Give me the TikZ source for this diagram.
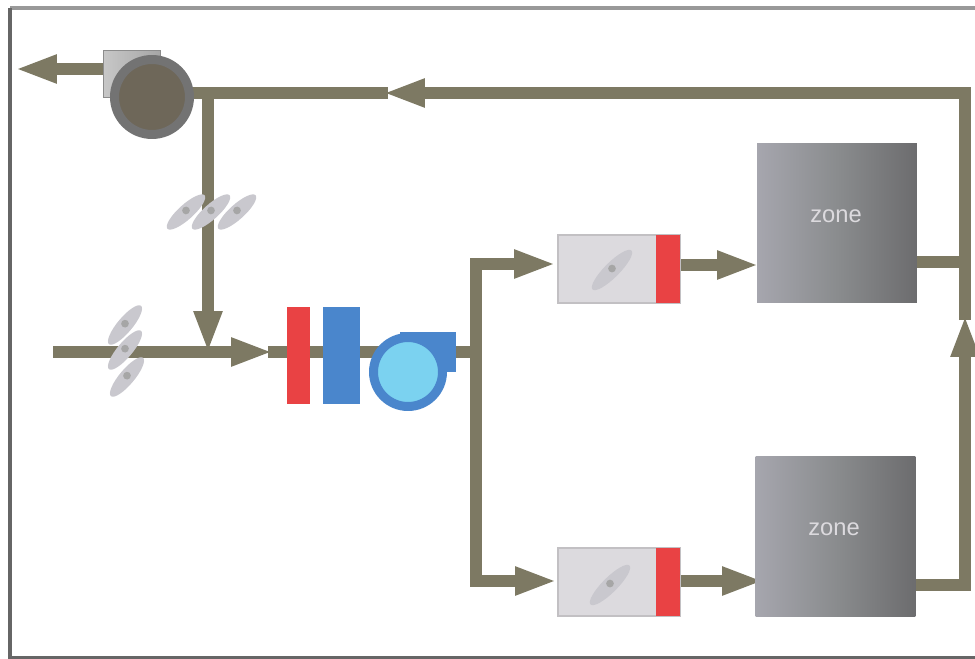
\documentclass[tikz,border=0pt]{standalone}
\usepackage{fontspec}
\setmainfont{Liberation Sans}
\usetikzlibrary{shapes.geometric, arrows.meta, backgrounds, calc}
\definecolor{ductcol}{HTML}{7D7963}
\definecolor{heatcol}{HTML}{E94244}
\definecolor{coolcol}{HTML}{4A86CC}
\definecolor{fancol}{HTML}{7BD2F0}
\definecolor{boxcol}{HTML}{DCDADE}
\definecolor{dampcol}{HTML}{C9C8CE}
\definecolor{zoneleft}{HTML}{A6A6AE}
\definecolor{zonemid}{HTML}{8A8C8E}
\definecolor{zoneright}{HTML}{6C6C6E}
\definecolor{rfancol}{HTML}{6E6759}
\tikzstyle{duct} = [draw=ductcol, line width=0.25cm]
\tikzstyle{flow} = [duct, -{Triangle[length=0.84cm, width=0.52cm]}]
\tikzstyle{zone} = [rectangle, minimum width=3.2cm, minimum height=3.2cm, inner sep=0pt,
    left color=zoneleft, right color=zoneright, middle color=zonemid]
\tikzstyle{zonetext} = [font=\fontsize{13.5}{14}\selectfont, text=boxcol, inner sep=0pt]
\tikzstyle{vavbox} = [rectangle, minimum width=2.44cm, minimum height=1.36cm, inner sep=0pt,
    draw=boxcol!88!black, line width=1.5pt, fill=boxcol]
\tikzstyle{reheat} = [rectangle, minimum width=0.48cm, minimum height=1.36cm, inner sep=0pt, fill=heatcol]
\tikzstyle{damper} = [ellipse, minimum width=1cm, minimum height=0.3cm, inner sep=0pt, fill=dampcol,
    path picture={\fill[black!35] (path picture bounding box.center) circle (2.2pt);}]

\begin{document}
\begin{tikzpicture}[x=0.02cm, y=-0.02cm]
\clip (0,0) rectangle (975,659);
% --- marco ---
\draw[black!40, line width=2pt] (975,8) -- (10,8);
\draw[black!60, line width=2.5pt] (10,8) -- (10,658) -- (975,658);

% --- ventilador de retorno ---
\node (rfanbody) [rectangle, minimum width=1.14cm, minimum height=0.94cm, inner sep=0pt,
    left color=black!22, right color=black!35, draw=black!45, line width=1pt] at (132,74) {};
\node (rfan) [circle, minimum size=1.5cm, inner sep=0pt, draw=black!55, line width=0.18cm,
    fill=rfancol] at (152,97) {};

% --- compuertas de recirculacion y aire exterior ---
\node (damprec1) [damper, rotate=42] at (186,212) {};
\node (damprec2) [damper, rotate=42] at (211,212) {};
\node (damprec3) [damper, rotate=42] at (237,212) {};
\node (dampoa1) [damper, rotate=50] at (125,325) {};
\node (dampoa2) [damper, rotate=50] at (125,350) {};
\node (dampoa3) [damper, rotate=50] at (127,377) {};

% --- bateria, enfriador y ventilador de impulsion ---
\node (hcoil) [rectangle, minimum width=0.46cm, minimum height=1.94cm, inner sep=0pt, fill=heatcol] at (298.5,355.5) {};
\node (ccoil) [rectangle, minimum width=0.74cm, minimum height=1.94cm, inner sep=0pt, fill=coolcol] at (341.5,355.5) {};
\node (sfanbody) [rectangle, minimum width=1.12cm, minimum height=0.8cm, inner sep=0pt, fill=coolcol] at (428,352) {};
\node (sfan) [circle, minimum size=1.38cm, inner sep=0pt, draw=coolcol, line width=0.18cm, fill=fancol] at (408,372) {};

% --- cajas terminales ---
\node (vava) [vavbox] at (619,269) {};
\node (heata) [reheat] at (668,269) {};
\node (dampa) [damper, rotate=45, minimum width=1.1cm] at (612,270) {};
\node (vavb) [vavbox] at (619,582) {};
\node (heatb) [reheat] at (668,582) {};
\node (dampb) [damper, rotate=45, minimum width=1.1cm] at (610,585) {};

% --- zonas ---
\node (zonea) [zone] at (837,223) {};
\node (labela) [zonetext] at (836,216) {zone};
\node (zoneb) [zone] at (835.5,536.5) {};
\node (labelb) [zonetext] at (834,529) {zone};

% --- puntos de paso ---
\coordinate (exhtip) at (15,69);
\coordinate (rettip) at (383,93);
\coordinate (retcorner) at (965,93);
\coordinate (retbot) at (965,585);
\coordinate (rettipup) at (965,315);
\coordinate (retjoin) at (208,93);
\coordinate (rectip) at (208,353);
\coordinate (oastart) at (53,352);
\coordinate (mixtip) at (273,352);
\coordinate (split) at (476,352);
\coordinate (splittop) at (476,264);
\coordinate (splitbot) at (476,581);
\coordinate (vavatip) at (556,264);
\coordinate (vavbtip) at (557,581);
\coordinate (zoneatip) at (759,265);
\coordinate (zonebtip) at (764,581);

% --- conductos ---
\begin{scope}[on background layer]
\draw[flow] (rfanbody.center |- exhtip) -- (exhtip);
\draw[duct, shorten <=-0.1cm] (rettip) -- (rettip -| rfan);
\draw[flow, shorten <=-0.1cm] (rettipup) -- (retcorner) -- (rettip);
\draw[flow] (zoneb.center |- retbot) -- (retbot) -- (rettipup);
\draw[duct] (zonea.center |- 0,262) -- (965,262);
\draw[flow] (retjoin) -- (rectip);
\draw[flow] (oastart) -- (mixtip);
\draw[duct, shorten <=-0.1cm] (mixtip) -- (split);
\draw[flow] (split) -- (splittop) -- (vavatip);
\draw[flow] (split) -- (splitbot) -- (vavbtip);
\draw[flow] (heata.center |- zoneatip) -- (zoneatip);
\draw[flow] (heatb.center |- zonebtip) -- (zonebtip);
\end{scope}
\end{tikzpicture}
\end{document}
